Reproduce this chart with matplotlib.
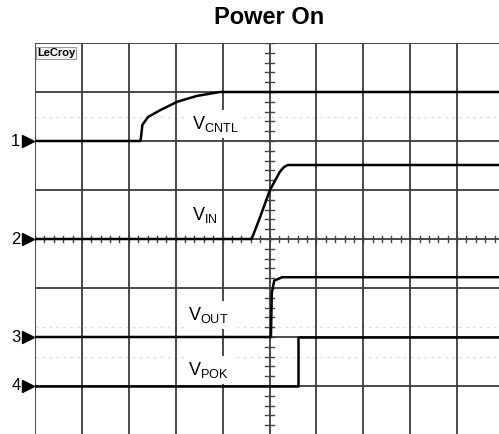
import numpy as np
import matplotlib
matplotlib.use("Agg")
import matplotlib.pyplot as plt

plt.rcParams["font.family"] = ["Liberation Sans", "DejaVu Sans"]
plt.rcParams["mathtext.fontset"] = "custom"
plt.rcParams["mathtext.rm"] = "Liberation Sans"

# traces, in scope divisions (x: 10 div, y: 8 div)
ch1_t = [0, 2.25, 2.29, 2.41, 2.67, 3.03, 3.45, 3.94, 10]
ch1_v = [6.0, 6.0, 6.33, 6.49, 6.63, 6.80, 6.92, 7.0, 7.0]

ch2_t = [0, 4.62, 4.80, 5.01, 5.22, 5.31, 5.39, 10]
ch2_v = [4.0, 4.0, 4.45, 5.0, 5.37, 5.47, 5.51, 5.51]

ch3_t = [0, 5.03, 5.05, 5.10, 5.27, 10]
ch3_v = [2.0, 2.0, 2.9, 3.15, 3.22, 3.22]

ch4_t = [0, 5.61, 5.61, 10]
ch4_v = [1.0, 1.0, 2.0, 2.0]

ch_levels = [6, 4, 2, 1]
ch_names = ["1", "2", "3", "4"]

trace_labels = [r"V$_{\mathrm{CNTL}}$", r"V$_{\mathrm{IN}}$",
                r"V$_{\mathrm{OUT}}$", r"V$_{\mathrm{POK}}$"]
label_x = [3.35, 3.35, 3.26, 3.26]
label_y = [6.24, 4.39, 2.35, 1.22]

# faint ghost traces behind the grid
ghost_y = [6.49, 2.2, 1.59]

fig = plt.figure(figsize=(4.99, 4.34), dpi=100)
ax = fig.add_axes([35 / 499, -1 / 434, 469 / 499, 392 / 434])
ax.set_xlim(0, 10)
ax.set_ylim(0, 8)
ax.axis("off")

for gy in ghost_y:
    ax.axhline(gy, color="#dddddd", lw=1, ls=(0, (2, 3)), zorder=1)

for i in range(11):
    ax.axvline(i, color="#3c3c3c", lw=1.3, zorder=2)
for j in range(9):
    ax.axhline(j, color="#3c3c3c", lw=1.3, zorder=2)

# minor ticks on the centre lines
for tx in np.arange(0, 10.01, 0.2):
    ax.plot([tx, tx], [3.93, 4.07], color="#444444", lw=1, zorder=2)
for ty in np.arange(0, 8.01, 0.2):
    ax.plot([4.9, 5.1], [ty, ty], color="#444444", lw=1, zorder=2)

for t, v in [(ch1_t, ch1_v), (ch2_t, ch2_v), (ch3_t, ch3_v), (ch4_t, ch4_v)]:
    ax.plot(t, v, color="black", lw=1.8, zorder=4)

for lvl, name in zip(ch_levels, ch_names):
    ax.plot(-0.14, lvl, marker=">", color="black", ms=9, clip_on=False, zorder=5)
    ax.text(-0.31, lvl, name, ha="right", va="center", fontsize=12, clip_on=False)

for lab, lx, ly in zip(trace_labels, label_x, label_y):
    ax.text(lx, ly, lab, fontsize=13, ha="left", va="baseline", zorder=6,
            bbox=dict(facecolor="white", edgecolor="none", pad=3))

ax.text(0.04, 7.8, "LeCroy", fontsize=8, fontweight="bold", ha="left",
        va="center", zorder=6,
        bbox=dict(facecolor="#f2f2f2", edgecolor="#888888", lw=0.6, pad=0.8))

fig.text(269 / 499, 1 - 17.5 / 434, "Power On", fontsize=17, fontweight="bold",
         ha="center", va="center")

fig.savefig("out.png", dpi=100)
